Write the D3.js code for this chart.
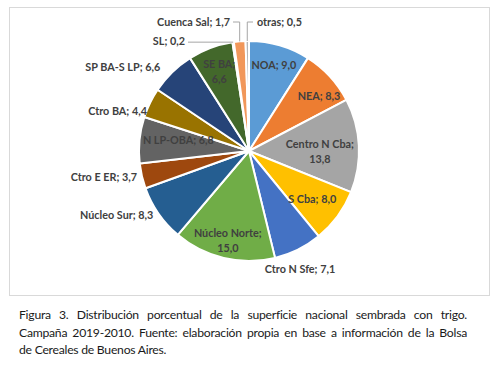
<!DOCTYPE html>
<html>
<head>
<meta charset="utf-8">
<script src="https://cdn.jsdelivr.net/npm/d3@7"></script>
<style>
  body { margin: 0; background: #fff; }
  #caption { position: absolute; left: 19px; top: 306px; width: 448px;
    font-family: Lato, "Open Sans", sans-serif; font-size: 12.2px; color: #1a1a1a; line-height: 17.5px;
    letter-spacing: -0.25px; }
  #caption div { white-space: nowrap; }
  #caption .j { text-align: justify; text-align-last: justify; }
</style>
</head>
<body>
<div id="chart"></div>
<div id="caption">
  <div class="j">Figura 3. Distribución porcentual de la superficie nacional sembrada con trigo.</div>
  <div class="j">Campaña 2019-2010. Fuente: elaboración propia en base a información de la Bolsa</div>
  <div>de Cereales de Buenos Aires.</div>
</div>
<script>
const regions = ['NOA', 'NEA', 'Centro N Cba', 'S Cba', 'Ctro N Sfe', 'Núcleo Norte', 'Núcleo Sur',
  'Ctro E ER', 'N LP-OBA', 'Ctro BA', 'SP BA-S LP', 'SE BA', 'SL', 'Cuenca Sal', 'otras']
const shares = [9.0, 8.3, 13.8, 8.0, 7.1, 15.0, 8.3, 3.7, 6.8, 4.4, 6.6, 6.6, 0.2, 1.7, 0.5]
const colors = ['#5B9BD5', '#ED7D31', '#A5A5A5', '#FFC000', '#4472C4', '#70AD47', '#255E91',
  '#9E480E', '#636363', '#997300', '#264478', '#43682B', '#698ED0', '#F1975A', '#B7B7B7']

// label placement: kind, radius from centre, extra offsets
const labelLayout = {
  'NOA': {kind: 'in', r: 89, dx: 0, dy: 0},
  'NEA': {kind: 'in', r: 87, dx: 6, dy: 4},
  'Centro N Cba': {kind: 'in2', r: 71, dx: 0, dy: 4},
  'S Cba': {kind: 'in', r: 86, dx: -6, dy: -3},
  'Ctro N Sfe': {kind: 'in', r: 137, dx: -10, dy: -4},
  'Núcleo Norte': {kind: 'in2', r: 92, dx: 0, dy: 0},
  'Núcleo Sur': {kind: 'end', r: 120, dx: 3, dy: -4},
  'Ctro E ER': {kind: 'end', r: 115, dx: 0, dy: 0},
  'N LP-OBA': {kind: 'in', r: 71, dx: 0, dy: -4},
  'Ctro BA': {kind: 'end', r: 109, dx: -4, dy: 8},
  'SP BA-S LP': {kind: 'end', r: 120, dx: -5, dy: 2},
  'SE BA': {kind: 'in2', r: 85, dx: 0, dy: 0},
  'SL': {kind: 'lead', tx: 185, ty: 41, elbowY: null},
  'Cuenca Sal': {kind: 'lead', tx: 230, ty: 22, elbowY: 22},
  'otras': {kind: 'lead', tx: 257, ty: 22, elbowY: 22}
}

const width = 500, height = 369
const cx = 249, cy = 151, radius = 110

const svg = d3.select("#chart")
  .append("svg")
    .attr("width", width)
    .attr("height", height)
    .style("position", "absolute").style("left", 0).style("top", 0)

// chart frame
svg.append("rect")
  .attr("x", 9.5).attr("y", 7.5)
  .attr("width", 480).attr("height", 288)
  .attr("fill", "none").attr("stroke", "#d9d9d9")

const g = svg.append("g").attr("transform", `translate(${cx},${cy})`)

const data = regions.map((r, i) => ({name: r, value: shares[i], color: colors[i]}))
const pie = d3.pie().sort(null).value(d => d.value)
const arcs = pie(data)
const arc = d3.arc().innerRadius(0).outerRadius(radius)

g.selectAll("path")
  .data(arcs)
  .join("path")
    .attr("d", arc)
    .attr("fill", d => d.data.color)
    .attr("stroke", "#fff")
    .attr("stroke-width", 2)
    .attr("stroke-linejoin", "round")

const fmt = v => d3.format(".1f")(v).replace(".", ",")
const font = "Lato, 'Open Sans', sans-serif"

arcs.forEach(d => {
  const L = labelLayout[d.data.name]
  const mid = (d.startAngle + d.endAngle) / 2
  const txt = g.append("text")
    .attr("font-family", font)
    .attr("font-size", 10.8)
    .attr("font-weight", "bold")
    .attr("fill", "#404040")
  if (L.kind === 'lead') {
    const ex = Math.sin(mid) * radius, ey = -Math.cos(mid) * radius
    const tx = L.tx - cx, ty = L.ty - cy
    const right = tx > ex
    let pts
    if (L.elbowY === null) {
      pts = [[ex, ey], [tx + 3, ey]]
    } else {
      const ey2 = L.elbowY - cy
      pts = [[ex, ey], [ex, ey2], [right ? tx - 4 : tx + 3, ey2]]
    }
    g.append("path")
      .attr("d", d3.line()(pts))
      .attr("fill", "none")
      .attr("stroke", "#a6a6a6")
      .attr("stroke-width", 1)
    txt.attr("x", tx).attr("y", ty).attr("dy", "0.35em")
      .attr("text-anchor", right ? "start" : "end")
      .text(`${d.data.name}; ${fmt(d.data.value)}`)
    return
  }
  const x = Math.sin(mid) * L.r + L.dx
  const y = -Math.cos(mid) * L.r + L.dy
  if (L.kind === 'in2') {
    txt.attr("text-anchor", "middle")
    txt.append("tspan").attr("x", x).attr("y", y - 7.5).attr("dy", "0.35em").text(`${d.data.name};`)
    txt.append("tspan").attr("x", x).attr("y", y + 7.5).attr("dy", "0.35em").text(fmt(d.data.value))
  } else {
    txt.attr("x", x).attr("y", y).attr("dy", "0.35em")
      .attr("text-anchor", L.kind === 'end' ? "end" : "middle")
      .text(`${d.data.name}; ${fmt(d.data.value)}`)
  }
})
</script>
</body>
</html>
